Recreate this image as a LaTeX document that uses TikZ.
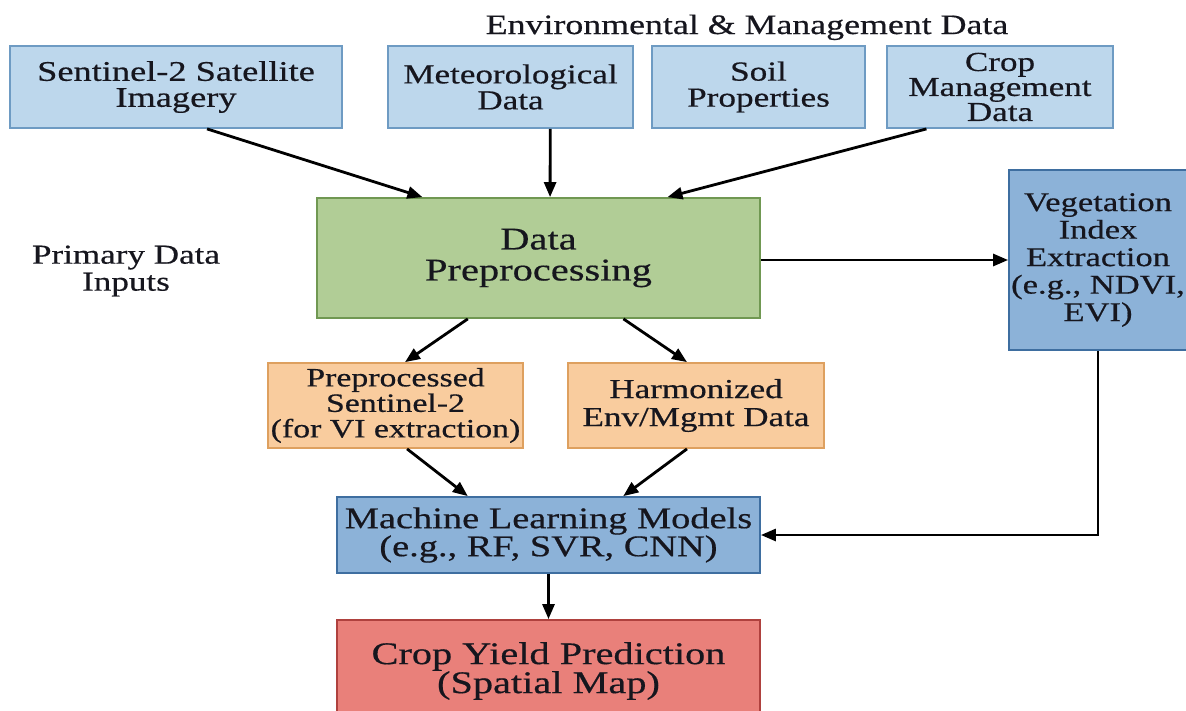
\documentclass[tikz,border=0pt]{standalone}
\usepackage{fontspec}
\setmainfont{Liberation Serif}[FakeStretch=1.28,FakeBold=0.5]
\usetikzlibrary{arrows.meta,calc}
\definecolor{lbfill}{RGB}{189,215,236}
\definecolor{lbdraw}{RGB}{110,155,195}
\definecolor{grfill}{RGB}{177,205,150}
\definecolor{grdraw}{RGB}{112,152,82}
\definecolor{orfill}{RGB}{249,204,158}
\definecolor{ordraw}{RGB}{222,160,95}
\definecolor{mbfill}{RGB}{140,178,216}
\definecolor{mbdraw}{RGB}{62,110,160}
\definecolor{rdfill}{RGB}{233,128,122}
\definecolor{rddraw}{RGB}{175,65,62}
\definecolor{txt}{RGB}{22,22,30}
\tikzset{
  bx/.style={draw, line width=1.8pt, inner sep=0pt, align=center, text=txt},
  lbbox/.style={bx, fill=lbfill, draw=lbdraw, minimum height=82pt},
  grbox/.style={bx, fill=grfill, draw=grdraw},
  orbox/.style={bx, fill=orfill, draw=ordraw, minimum height=85pt},
  mbbox/.style={bx, fill=mbfill, draw=mbdraw},
  rdbox/.style={bx, fill=rdfill, draw=rddraw},
  lbl/.style={inner sep=0pt, align=center, text=txt},
  arr/.style={line width=2.8pt, draw=black, -{Triangle[length=15pt,width=12pt]}}
}
\newcommand{\fsz}[2]{\fontsize{#1}{#2}\selectfont}
\begin{document}
\begin{tikzpicture}[x=1pt,y=-1pt]
\useasboundingbox (0,0) rectangle (1186,710);
\fill[white] (0,0) rectangle (1186,710);

% top row
\node[lbbox, minimum width=332pt, font=\fsz{28.4}{26}] (sent) at (176,87) {Sentinel-2 Satellite\\Imagery};
\node[lbbox, minimum width=245pt, font=\fsz{27.4}{26}] (met) at (510.5,87) {Meteorological\\Data};
\node[lbbox, minimum width=213pt, font=\fsz{27.5}{26}] (soil) at (758.5,87) {Soil\\Properties};
\node[lbbox, minimum width=226pt, font=\fsz{27.4}{25}] (cropm) at (1000,87) {Crop\\Management\\Data};
\node[lbl, anchor=base, font=\fsz{28}{27}] (envtitle) at (747,34) {Environmental \& Management Data};

\node[lbl, font=\fsz{27.4}{27}] (primary) at (126,271) {Primary Data\\Inputs};

% middle
\node[grbox, minimum width=443pt, minimum height=120pt, font=\fsz{31.6}{31}] (green) at (538.5,258) {Data\\Preprocessing};
\node[mbbox, minimum width=178pt, minimum height=180pt, font=\fsz{27}{27.5}] (veg) at (1098,260) {Vegetation\\Index\\Extraction\\(e.g., NDVI,\\EVI)};

\node[orbox, minimum width=255pt, font=\fsz{26.4}{25.5}] (or1) at (395.5,405.5) {Preprocessed\\Sentinel-2\\(for VI extraction)};
\node[orbox, minimum width=256pt, font=\fsz{27.4}{28}] (or2) at (696,405.5) {Harmonized\\Env/Mgmt Data};

\node[mbbox, minimum width=423pt, minimum height=76pt, font=\fsz{30}{28}] (ml) at (548.5,535) {Machine Learning Models\\(e.g., RF, SVR, CNN)};
\node[rdbox, minimum width=423pt, minimum height=102pt, font=\fsz{31.5}{29}] (crop) at (548.5,671) {Crop Yield Prediction\\(Spatial Map)};

% connectors
\draw[arr] ($(sent.south west)!0.593!(sent.south east)$) -- ($(green.north west)!0.239!(green.north east)$);
\draw[arr] ($(met.south west)!0.661!(met.south east)$) -- ($(green.north west)!0.526!(green.north east)$);
\draw[arr] ($(cropm.south west)!0.177!(cropm.south east)$) -- ($(green.north west)!0.79!(green.north east)$);

\draw[arr] (veg.west -| green.east) -- (veg.west);

\draw[arr] ($(green.south west)!0.341!(green.south east)$) -- ($(or1.north west)!0.537!(or1.north east)$);
\draw[arr] ($(green.south west)!0.691!(green.south east)$) -- ($(or2.north west)!0.465!(or2.north east)$);

\draw[arr] ($(or1.south west)!0.545!(or1.south east)$) -- ($(ml.north west)!0.31!(ml.north east)$);
\draw[arr] ($(or2.south west)!0.465!(or2.south east)$) -- ($(ml.north west)!0.676!(ml.north east)$);

\draw[arr] (veg.south) |- (ml.east);
\draw[arr] (ml.south) -- (crop.north);
\end{tikzpicture}
\end{document}
